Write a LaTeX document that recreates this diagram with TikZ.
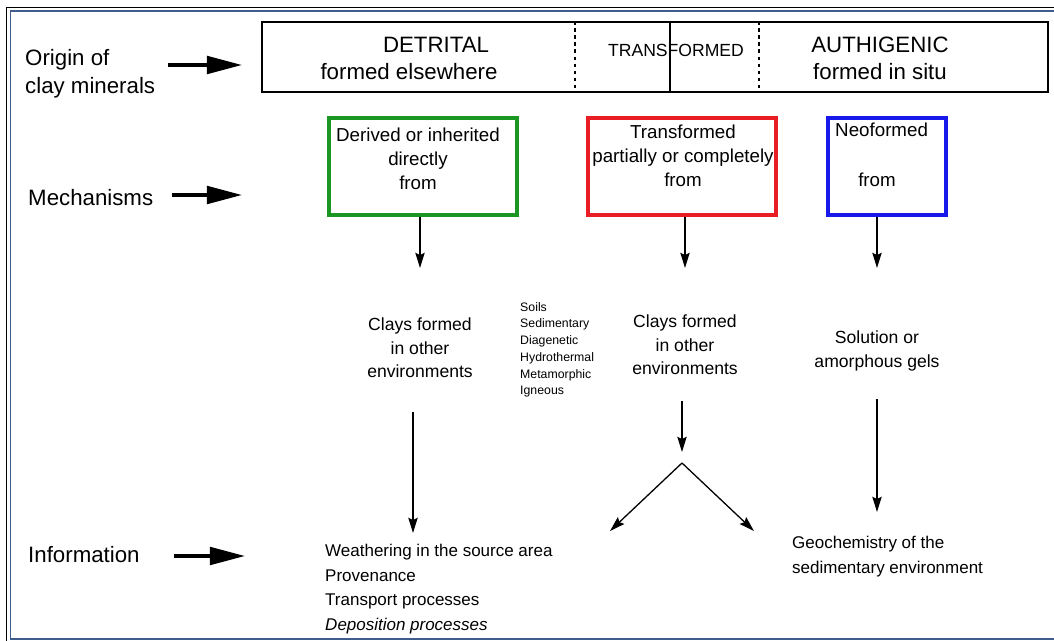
\documentclass[tikz,border=0pt]{standalone}
\usepackage{fontspec}
\setmainfont{Liberation Sans}
\usepackage{tikz}
\newcommand{\unitpx}{0.03cm}
\usetikzlibrary{arrows.meta,positioning}
\definecolor{boxgreen}{RGB}{28,150,35}
\definecolor{boxred}{RGB}{232,30,36}
\definecolor{boxblue}{RGB}{24,24,235}
\definecolor{frameblue}{RGB}{62,92,140}
\tikzset{
  x=\unitpx,y=-\unitpx,
  every node/.style={inner sep=0},
  rowlabel/.style={anchor=west,align=left,font=\fontsize{19}{24}\selectfont},
  head/.style={font=\fontsize{19}{23}\selectfont,align=center},
  mech/.style={draw=#1,line width=2.6pt,minimum width=188*\unitpx,minimum height=97*\unitpx},
  mechtext/.style={anchor=north,align=center,font=\fontsize{16}{20.5}\selectfont},
  midtext/.style={anchor=north,align=center,font=\fontsize{15}{20}\selectfont},
  infotext/.style={anchor=north west,align=left,font=\fontsize{14.5}{21}\selectfont},
  bigarrow/.style={-{Triangle[length=30pt,width=15pt]},line width=3pt},
  flow/.style={-{Stealth[length=13pt,width=8pt,inset=2pt]},line width=1.1pt},
  divider/.style={dashed,line width=1pt}
}

\begin{document}
\begin{tikzpicture}
  \useasboundingbox (0,0) rectangle (1054,641);
  % frame
  \draw [line width=1.2pt] (6.5,7.5) rectangle (1070,660);
  \draw [frameblue,line width=1.6pt] (10.5,11) rectangle (1065,639);

  % row labels
  \node (originlbl) [rowlabel] at (25,74) {Origin of\\clay minerals};
  \node (mechlbl) [rowlabel] at (28,198) {Mechanisms};
  \node (infolbl) [rowlabel] at (28,555) {Information};
  \coordinate (originarrow) at (168,65);
  \coordinate (originhead) at (242,65);
  \coordinate (mecharrow) at (172,195);
  \coordinate (mechhead) at (242,195);
  \coordinate (infoarrow) at (174,556);
  \coordinate (infohead) at (245,556);
  \draw [bigarrow] (originarrow) -- (originhead);
  \draw [bigarrow] (mecharrow) -- (mechhead);
  \draw [bigarrow] (infoarrow) -- (infohead);

  % origin strip
  \node (origin) [draw,line width=1.1pt,minimum width=786*\unitpx,minimum height=70*\unitpx] at (655,57) {};
  \coordinate (splitA) at (575,57);
  \coordinate (splitB) at (670,57);
  \coordinate (splitC) at (759,57);
  \draw [divider] (origin.north -| splitA) -- (origin.south -| splitA);
  \draw [line width=1pt] (origin.north -| splitB) -- (origin.south -| splitB);
  \draw [divider] (origin.north -| splitC) -- (origin.south -| splitC);
  \node (detrital) [head] at (436,45) {DETRITAL};
  \node (detritalsub) [head] at (409,72) {formed elsewhere};
  \node (transformed) [font=\fontsize{15}{18}\selectfont] at (676,50) {TRANSFORMED};
  \node (authigenic) [head] at (880,58) {AUTHIGENIC\\formed in situ};

  % mechanisms
  \node (derived) [mech=boxgreen] at (423,166.5) {};
  \node (transf) [mech=boxred] at (682,166.5) {};
  \node (neo) [mech=boxblue,minimum width=118*\unitpx] at (887,166.5) {};
  \node (derivedtxt) [mechtext] at (418,128) {Derived or inherited\\directly\\from};
  \node (transftxt) [mechtext] at (683,125) {Transformed\\partially or completely\\from};
  \node (neotxt) [mechtext,anchor=north west] at (835,123) {Neoformed};
  \node (neofrom) [mechtext] at (877,173) {from};

  % sources
  \node (clays1) [midtext] at (420,318) {Clays formed\\in other\\environments};
  \node (sources) [anchor=north west,align=left,font=\fontsize{10.5}{14.3}\selectfont] at (520,302)
    {Soils\\Sedimentary\\Diagenetic\\Hydrothermal\\Metamorphic\\Igneous};
  \node (clays2) [midtext] at (685,315) {Clays formed\\in other\\environments};
  \node (solution) [midtext] at (877,331) {Solution or\\amorphous gels};

  % information
  \node (infotxt) [infotext] at (325,544) {Weathering in the source area\\Provenance\\Transport processes\\\textit{Deposition processes}};
  \node (geochem) [infotext] at (792,536) {Geochemistry of the\\sedimentary environment};

  \draw [flow,shorten >=50*\unitpx] (derived.south -| clays1.north) -- (clays1.north);
  \draw [flow,shorten >=47*\unitpx] (transf.south -| clays2.north) -- (clays2.north);
  \draw [flow,shorten >=63*\unitpx] (neo.south -| solution.north) -- (solution.north);

  \coordinate (weathering) at (413,533);
  \coordinate (split) at (682,463);
  \coordinate (leftend) at (610,531);
  \coordinate (rightend) at (754,531);
  \coordinate (geoend) at (877,512);
  \draw [flow,shorten <=34*\unitpx] (clays1.south -| weathering) -- (weathering);
  \draw [flow,shorten <=26*\unitpx,shorten >=11*\unitpx] (clays2.south -| split) -- (split);
  \draw [flow] (split) -- (leftend);
  \draw [flow] (split) -- (rightend);
  \draw [flow,shorten <=28*\unitpx] (solution.south -| geoend) -- (geoend);
\end{tikzpicture}
\end{document}
